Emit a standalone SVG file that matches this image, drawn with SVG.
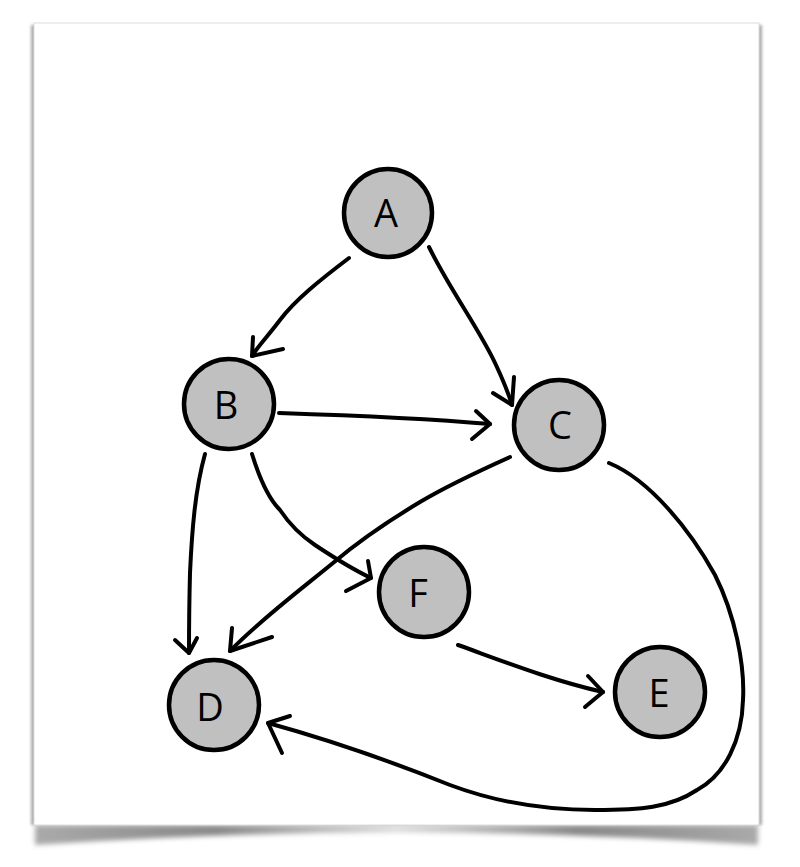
<svg xmlns="http://www.w3.org/2000/svg" width="800" height="867" viewBox="0 0 800 867">
<defs>
<filter id="blur" x="-10%" y="-50%" width="120%" height="200%"><feGaussianBlur stdDeviation="2.5"/></filter>
<filter id="blur2" x="-10%" y="-10%" width="120%" height="120%"><feGaussianBlur stdDeviation="1.5"/></filter>
<linearGradient id="sh" x1="0" y1="0" x2="1" y2="0">
<stop offset="0" stop-color="#aaa"/>
<stop offset="0.25" stop-color="#888"/>
<stop offset="0.5" stop-color="#ddd"/>
<stop offset="0.75" stop-color="#888"/>
<stop offset="1" stop-color="#aaa"/>
</linearGradient>
<style>
.node circle{fill:#c0c0c0;stroke:#000;stroke-width:4.5}
.node text{font-family:"Open Sans","DejaVu Sans",sans-serif;font-size:38px;fill:#000;text-anchor:middle;dominant-baseline:central}
.edge{fill:none;stroke:#000;stroke-width:4;stroke-linecap:round;stroke-linejoin:round}
</style>
</defs>
<rect width="800" height="867" fill="#fff"/>
<g id="paper">
<path d="M35,825 L758,825 L758,845 Q396,820 35,845 Z" fill="url(#sh)" filter="url(#blur)"/>
<rect x="31" y="25" width="731" height="800" fill="#aaa" filter="url(#blur2)"/>
<rect x="34" y="23" width="725" height="802" fill="#fff" stroke="#ddd" stroke-width="1"/>
</g>
<g id="connectors">
<path class="edge" d="M349,258 C320,280 295,300 280,320 C268,336 258,346 252,356"/>
<path class="edge" d="M253,337 L252,356 L283,349"/>
<path class="edge" d="M429,247 C450,290 480,330 496,365 C503,380 508,392 512,405"/>
<path class="edge" d="M514,377 L512,405 L493,393"/>
<path class="edge" d="M279,413 C340,415 420,418 490,424"/>
<path class="edge" d="M476,411 L490,424 L472,439"/>
<path class="edge" d="M205,454 C195,490 192,530 190,573 C189,610 189,635 189,653"/>
<path class="edge" d="M175,640 L189,653 L197,638"/>
<path class="edge" d="M252,454 C260,480 270,500 280,510 C290,525 300,535 315,545 C330,555 350,568 371,578"/>
<path class="edge" d="M368,561 L371,578 L346,591"/>
<path class="edge" d="M510,457 C470,475 440,490 420,502 C390,520 360,540 333,563 C300,590 260,620 230,651"/>
<path class="edge" d="M232,628 L230,651 L272,637"/>
<path class="edge" d="M458,645 C500,660 550,680 603,692"/>
<path class="edge" d="M588,676 L603,692 L585,707"/>
<path class="edge" d="M609,463 C650,480 690,530 715,575 C735,615 745,665 743,700 C742,740 725,775 697,790 C670,808 640,810 595,810 C540,810 490,800 450,785 C400,765 330,740 268,723"/>
<path class="edge" d="M290,716 L268,723 L282,753"/>
</g>
<g id="A" class="node"><circle cx="388" cy="213" r="44"/><text x="386" y="212">A</text></g>
<g id="B" class="node"><circle cx="229" cy="404" r="45"/><text x="226" y="404">B</text></g>
<g id="C" class="node"><circle cx="559" cy="425" r="45"/><text x="560" y="424">C</text></g>
<g id="F" class="node"><circle cx="424" cy="592" r="45"/><text x="418" y="592">F</text></g>
<g id="D" class="node"><circle cx="214" cy="705" r="45"/><text x="210" y="706">D</text></g>
<g id="E" class="node"><circle cx="660" cy="692" r="45"/><text x="659" y="692">E</text></g>
</svg>
